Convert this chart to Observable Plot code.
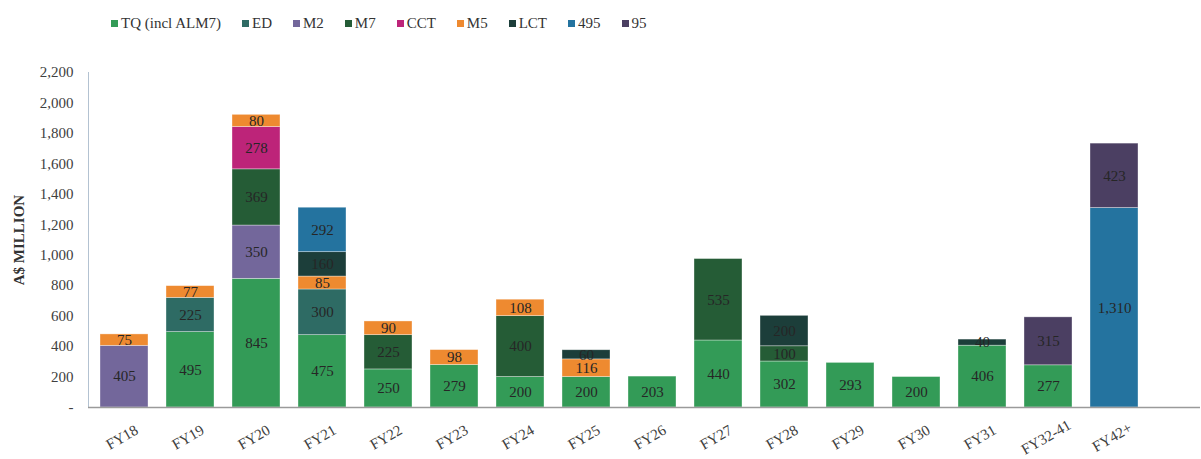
<!DOCTYPE html>
<html><head><meta charset="utf-8">
<script src="https://cdn.jsdelivr.net/npm/d3@7"></script>
<script src="https://cdn.jsdelivr.net/npm/@observablehq/plot@0.6"></script>
<style>
body{margin:0;background:#fff;font-family:"Liberation Serif",serif;}
#legend{height:40px;display:flex;align-items:center;padding-left:111px;gap:21px;box-sizing:border-box;padding-top:6px;}
.item{font-size:15px;color:#333;white-space:nowrap;display:flex;align-items:center;}
.sw{display:inline-block;width:7px;height:7px;margin-right:3px;}
svg g[aria-label="y-axis label"] text{font-weight:bold;fill:#333;}
</style></head><body>
<div id="legend"></div><div id="chart"></div>
<script>
const categories = ["FY18","FY19","FY20","FY21","FY22","FY23","FY24","FY25","FY26","FY27","FY28","FY29","FY30","FY31","FY32-41","FY42+"];
const seriesNames = ["TQ (incl ALM7)","ED","M2","M7","CCT","M5","LCT","495","95"];
const seriesColors = ["#339b57","#2e6b64","#73679b","#255c36","#bd2479","#ee8a30","#1c3e3a","#24739f","#4b3f62"];
const TQ   = [0,495,845,475,250,279,200,200,203,440,302,293,200,406,277,0];
const ED   = [0,225,0,300,0,0,0,0,0,0,0,0,0,0,0,0];
const M2   = [405,0,350,0,0,0,0,0,0,0,0,0,0,0,0,0];
const M7   = [0,0,369,0,225,0,400,0,0,535,100,0,0,0,0,0];
const CCT  = [0,0,278,0,0,0,0,0,0,0,0,0,0,0,0,0];
const M5   = [75,77,80,85,90,98,108,116,0,0,0,0,0,0,0,0];
const LCT  = [0,0,0,160,0,0,0,60,0,0,200,0,0,40,0,0];
const S495 = [0,0,0,292,0,0,0,0,0,0,0,0,0,0,0,1310];
const S95  = [0,0,0,0,0,0,0,0,0,0,0,0,0,0,315,423];
const yTicks = [0,200,400,600,800,1000,1200,1400,1600,1800,2000,2200];

const seriesValues = [TQ,ED,M2,M7,CCT,M5,LCT,S495,S95];
const data = [];
seriesNames.forEach((s,i)=>categories.forEach((c,j)=>{
  if (seriesValues[i][j] > 0) data.push({cat:c, series:s, value:seriesValues[i][j]});
}));
const fmt = d3.format(",");

// legend
const leg = document.getElementById("legend");
seriesNames.forEach((s,i)=>{
  const it = document.createElement("div"); it.className="item";
  const sw = document.createElement("span"); sw.className="sw"; sw.style.background=seriesColors[i];
  it.appendChild(sw); it.appendChild(document.createTextNode(s)); leg.appendChild(it);
});

const chart = Plot.plot({
  width: 1201, height: 419,
  marginTop: 32, marginBottom: 52, marginLeft: 88, marginRight: 1,
  style: {fontFamily: "Liberation Serif, serif", fontSize: "15px", color: "#404040", background: "#fff"},
  x: {type: "band", domain: categories, paddingInner: 0.275, paddingOuter: 0.151, insetRight: 51, axis: null},
  y: {domain: [0, 2200]},
  color: {domain: seriesNames, range: seriesColors},
  marks: [
    Plot.barY(data, {x: "cat", y: "value", fill: "series", order: seriesNames, stroke: "#fff", strokeOpacity: 0.5, strokeWidth: 0.7}),
    Plot.text(data, Plot.stackY({x: "cat", y: "value", z: "series", order: seriesNames, text: d => fmt(d.value), fill: "#262626", fontSize: 15})),
    Plot.axisY({ticks: yTicks, tickFormat: d => d === 0 ? "-" : fmt(d), tickSize: 0, tickPadding: 15, fontSize: 15, label: "A$ MILLION", labelAnchor: "center", labelOffset: 75, labelArrow: "none"}),
    Plot.text(categories, {x: d => d, frameAnchor: "bottom", rotate: -30, dy: 34, textAnchor: "middle", fontSize: 15, fill: "#404040"}),
    Plot.frame({anchor: "left", stroke: "#b3c2d1"}),
    Plot.ruleY([0], {stroke: "#9a9a9a", strokeWidth: 1.5})
  ]
});
document.getElementById("chart").appendChild(chart);
</script>
</body></html>
